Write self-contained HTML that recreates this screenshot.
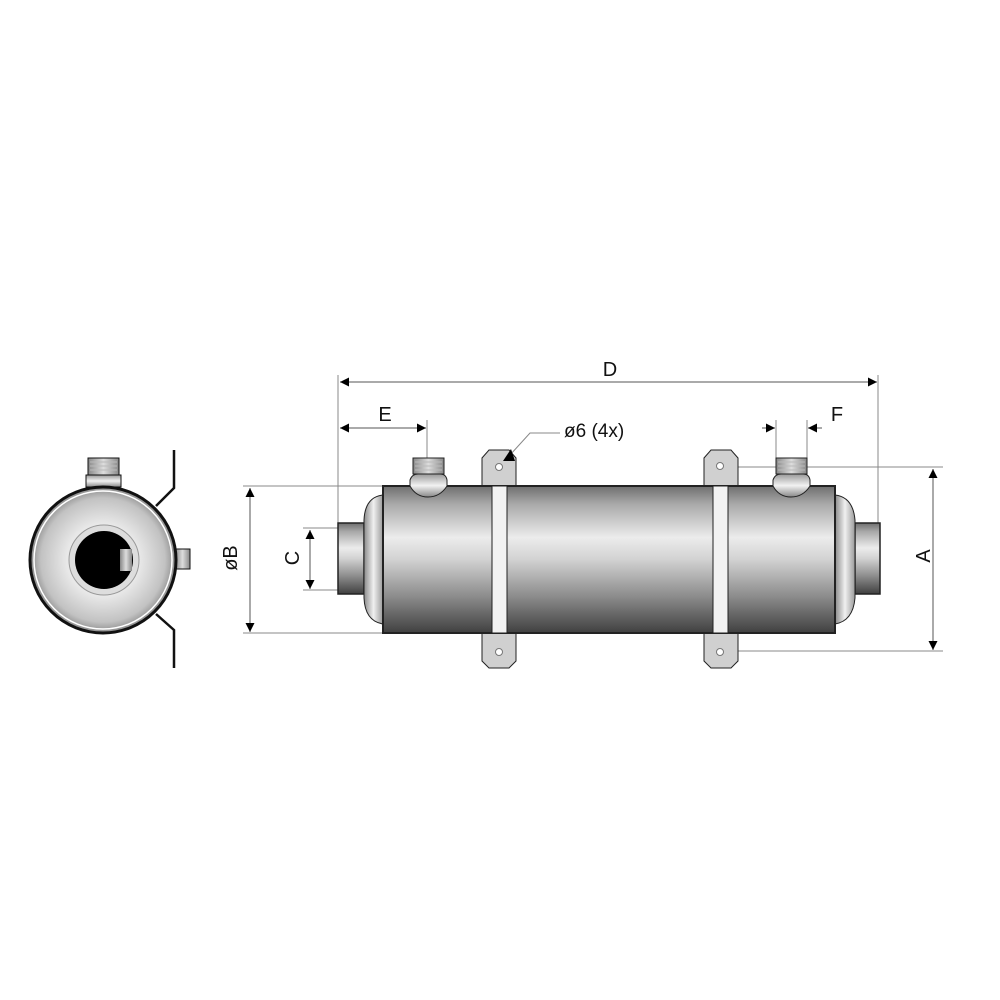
<!DOCTYPE html>
<html><head><meta charset="utf-8"><style>html,body{margin:0;padding:0;background:#fff}svg{display:block}</style></head><body>
<svg width="1000" height="1000" viewBox="0 0 1000 1000" xmlns="http://www.w3.org/2000/svg" font-family="Liberation Sans, sans-serif">
<defs>
<linearGradient id="cyl" x1="0" y1="0" x2="0" y2="1">
<stop offset="0" stop-color="#6e6e6e"/><stop offset="0.12" stop-color="#a8a8a8"/><stop offset="0.35" stop-color="#ececec"/><stop offset="0.5" stop-color="#d2d2d2"/><stop offset="0.75" stop-color="#8c8c8c"/><stop offset="1" stop-color="#404040"/></linearGradient>
<linearGradient id="domeL" x1="0" y1="0" x2="1" y2="0"><stop offset="0" stop-color="#8a8a8a"/><stop offset="0.5" stop-color="#f0f0f0"/><stop offset="1" stop-color="#9a9a9a"/></linearGradient>
<radialGradient id="face" cx="0.5" cy="0.5" r="0.5"><stop offset="0.5" stop-color="#e8e8e8"/><stop offset="0.85" stop-color="#c2c2c2"/><stop offset="1" stop-color="#8a8a8a"/></radialGradient>
<linearGradient id="nut" x1="0" y1="0" x2="0" y2="1"><stop offset="0" stop-color="#999"/><stop offset="0.5" stop-color="#f2f2f2"/><stop offset="1" stop-color="#888"/></linearGradient>
<linearGradient id="thr" x1="0" y1="0" x2="1" y2="0"><stop offset="0" stop-color="#888"/><stop offset="0.5" stop-color="#ddd"/><stop offset="1" stop-color="#888"/></linearGradient>
<marker id="ar" viewBox="0 0 10 10" refX="10" refY="5" markerWidth="12" markerHeight="9" orient="auto" markerUnits="userSpaceOnUse"><path d="M0,0L10,5L0,10z" fill="#000"/></marker>
</defs>

<!-- end view -->
<g stroke="#111">
<rect x="88" y="458" width="31" height="17" fill="url(#thr)" stroke-width="1"/>
<g stroke="#bbb" stroke-width="1"><line x1="90" y1="462" x2="117" y2="462"/><line x1="90" y1="466" x2="117" y2="466"/><line x1="90" y1="470" x2="117" y2="470"/></g>
<rect x="86" y="475" width="35" height="12" fill="url(#nut)" stroke-width="1"/>
<rect x="175" y="549" width="15" height="20" fill="url(#thr)" stroke-width="1"/>
<circle cx="103" cy="560" r="73" fill="url(#face)" stroke-width="3"/>
<circle cx="103" cy="560" r="69" fill="none" stroke="#fff" stroke-width="1.5"/>
<circle cx="104" cy="560" r="35" fill="#ddd" stroke="#999" stroke-width="1"/>
<circle cx="104" cy="560" r="29" fill="#000" stroke="none"/>
<rect x="120" y="549" width="12" height="22" fill="url(#thr)" stroke="none"/>
<polyline points="174,450 174,488 156,506" fill="none" stroke-width="2.5"/>
<polyline points="156,614 174,630 174,668" fill="none" stroke-width="2.5"/>
</g>

<!-- dimension lines -->
<g stroke="#888" stroke-width="1" fill="none">
<line x1="338" y1="375" x2="338" y2="523"/>
<line x1="878" y1="375" x2="878" y2="523"/>
<line x1="427" y1="420" x2="427" y2="458"/>
<line x1="776" y1="420" x2="776" y2="458"/>
<line x1="807" y1="420" x2="807" y2="458"/>
<line x1="243" y1="486" x2="383" y2="486"/>
<line x1="243" y1="633" x2="383" y2="633"/>
<line x1="303" y1="528" x2="338" y2="528"/>
<line x1="303" y1="590" x2="338" y2="590"/>
<line x1="720" y1="467" x2="943" y2="467"/>
<line x1="738" y1="651" x2="943" y2="651"/>
</g>
<g stroke="#555" stroke-width="1" fill="none" marker-end="url(#ar)" >
<line x1="610" y1="382" x2="340" y2="382"/>
<line x1="610" y1="382" x2="877" y2="382"/>
<line x1="380" y1="428" x2="340" y2="428"/>
<line x1="380" y1="428" x2="426" y2="428"/>
<line x1="762" y1="428" x2="775" y2="428"/>
<line x1="822" y1="428" x2="808" y2="428"/>
<line x1="250" y1="560" x2="250" y2="488"/>
<line x1="250" y1="560" x2="250" y2="632"/>
<line x1="310" y1="560" x2="310" y2="530"/>
<line x1="310" y1="560" x2="310" y2="589"/>
<line x1="933" y1="560" x2="933" y2="469"/>
<line x1="933" y1="560" x2="933" y2="650"/>
</g>

<g font-size="20" fill="#111">
<text x="610" y="376" text-anchor="middle">D</text>
<text x="385" y="421" text-anchor="middle">E</text>
<text x="837" y="421" text-anchor="middle">F</text>
<text x="564" y="437" font-size="19">ø6 (4x)</text>
<text transform="translate(237,558) rotate(-90)" text-anchor="middle">øB</text>
<text transform="translate(299,558) rotate(-90)" text-anchor="middle">C</text>
<text transform="translate(930,556) rotate(-90)" text-anchor="middle">A</text>
</g>

<!-- main body -->
<g stroke="#222" stroke-width="1.5">
<rect x="338" y="523" width="26" height="71" fill="url(#cyl)"/>
<rect x="855" y="523" width="25" height="71" fill="url(#cyl)"/>
<path d="M383,495 Q365,497 364,520 L364,598 Q365,621 383,624z" fill="url(#domeL)" stroke-width="1"/>
<path d="M835,495 Q853,497 855,520 L855,598 Q853,621 835,624z" fill="url(#domeL)" stroke-width="1"/>
<path d="M482,486 L482,458 L489,450 L509,450 L516,458 L516,486z" fill="#d0d0d0" stroke-width="1"/>
<path d="M482,633 L482,661 L489,668 L509,668 L516,661 L516,633z" fill="#d0d0d0" stroke-width="1"/>
<path d="M704,486 L704,458 L711,450 L731,450 L738,458 L738,486z" fill="#d0d0d0" stroke-width="1"/>
<path d="M704,633 L704,661 L711,668 L731,668 L738,661 L738,633z" fill="#d0d0d0" stroke-width="1"/>
<rect x="383" y="486" width="452" height="147" fill="url(#cyl)" stroke-width="2"/>
<rect x="492" y="486" width="15" height="147" fill="#f2f2f2" stroke-width="1"/>
<rect x="713" y="486" width="15" height="147" fill="#f2f2f2" stroke-width="1"/>
</g>
<g fill="#fff" stroke="#777" stroke-width="1">
<circle cx="499" cy="467" r="3.5"/><circle cx="499" cy="652" r="3.5"/>
<circle cx="720" cy="466" r="3.5"/><circle cx="720" cy="652" r="3.5"/>
</g>
<!-- leader -->
<polyline points="560,433 530,433 510,455" fill="none" stroke="#888" stroke-width="1"/>
<path d="M503,461 L511,449 L515,461z" fill="#000"/>
<!-- nozzles -->
<g stroke="#222" stroke-width="1">
<rect x="413" y="458" width="31" height="16" fill="url(#thr)"/>
<path d="M410,486 L410,480 Q412,474 418,474 L440,474 Q446,474 447,480 L447,486 Q440,497 428,497 Q416,497 410,486z" fill="url(#nut)"/>
<rect x="776" y="458" width="31" height="16" fill="url(#thr)"/>
<path d="M773,486 L773,480 Q775,474 781,474 L803,474 Q809,474 810,480 L810,486 Q803,497 791,497 Q779,497 773,486z" fill="url(#nut)"/>
</g>
<g stroke="#bbb" stroke-width="1">
<line x1="415" y1="462" x2="442" y2="462"/><line x1="415" y1="466" x2="442" y2="466"/><line x1="415" y1="470" x2="442" y2="470"/>
<line x1="778" y1="462" x2="805" y2="462"/><line x1="778" y1="466" x2="805" y2="466"/><line x1="778" y1="470" x2="805" y2="470"/>
</g>
</svg>
</body></html>
